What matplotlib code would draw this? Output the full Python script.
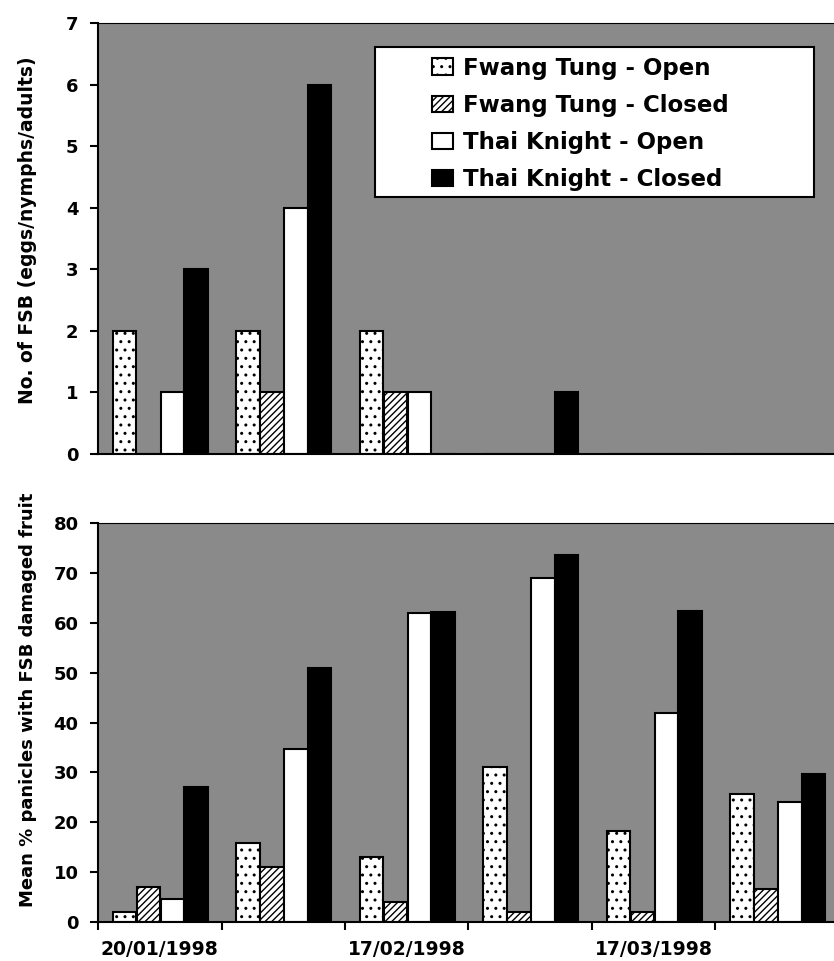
import matplotlib
matplotlib.use("Agg")
import matplotlib.pyplot as plt
import numpy as np
from matplotlib.patches import Rectangle

# series and sampling dates
series = ["Fwang Tung - Open", "Fwang Tung - Closed",
          "Thai Knight - Open", "Thai Knight - Closed"]
date_labels = ["20/01/1998", "17/02/1998", "17/03/1998"]
date_groups = [0, 2, 4]

# No. of FSB (eggs/nymphs/adults)
fsb_ft_open = [2, 2, 2, 0, 0, 0]
fsb_ft_closed = [0, 1, 1, 0, 0, 0]
fsb_tk_open = [1, 4, 1, 0, 0, 0]
fsb_tk_closed = [3, 6, 0, 1, 0, 0]

# Mean % panicles with FSB damaged fruit
dmg_ft_open = [2.0, 15.8, 13.0, 31.0, 18.2, 25.7]
dmg_ft_closed = [7.0, 11.0, 4.0, 2.0, 2.0, 6.7]
dmg_tk_open = [4.7, 34.7, 62.0, 69.0, 42.0, 24.0]
dmg_tk_closed = [27.0, 51.0, 62.2, 73.5, 62.3, 29.7]

plt.rcParams['font.family'] = ['DejaVu Sans']
plt.rcParams['font.weight'] = 'bold'
plt.rcParams['axes.labelweight'] = 'bold'
plt.rcParams['hatch.linewidth'] = 1.0

faces = ['white', 'white', 'white', 'black']
hatches = ['..', '/////', None, None]

W, H = 834, 961
fig = plt.figure(figsize=(W / 100, H / 100), dpi=100)
ax1 = fig.add_axes([98 / W, 1 - 454 / H, 736 / W, 431 / H])
ax2 = fig.add_axes([98 / W, 1 - 922 / H, 736 / W, 399 / H])

n_groups = len(dmg_ft_open)
x = np.arange(n_groups) + 0.5
width = 0.19
offsets = (np.arange(4) - 1.5) * 0.193 + 0.005

top = [fsb_ft_open, fsb_ft_closed, fsb_tk_open, fsb_tk_closed]
bottom = [dmg_ft_open, dmg_ft_closed, dmg_tk_open, dmg_tk_closed]

for ax, data in ((ax1, top), (ax2, bottom)):
    ax.set_facecolor('#8a8a8a')
    for k, vals in enumerate(data):
        ax.bar(x + offsets[k], vals, width, color=faces[k], edgecolor='black',
               hatch=hatches[k], linewidth=1.5, label=series[k], zorder=2)
    ax.set_xlim(0, 736 / 123.5)
    ax.spines['right'].set_visible(False)
    ax.spines['top'].set_linewidth(0.8)
    ax.spines['left'].set_linewidth(1.5)
    ax.spines['bottom'].set_linewidth(1.5)
    ax.tick_params(axis='y', direction='out', length=6, width=1.5, pad=8,
                   labelsize=13)

ax1.set_ylim(0, 7)
ax1.set_yticks(range(0, 8))
ax1.set_xticks([])
ax1.set_ylabel("No. of FSB (eggs/nymphs/adults)", fontsize=13.5)
ax1.yaxis.set_label_coords(-0.083, 0.52)

ax2.set_ylim(0, 80)
ax2.set_yticks(range(0, 81, 10))
ax2.set_xticks(np.arange(n_groups), labels=[''] * n_groups)
ax2.tick_params(axis='x', which='major', direction='out', length=6, width=1.5)
ax2.set_xticks(x[date_groups], labels=date_labels, minor=True)
ax2.tick_params(axis='x', which='minor', length=0, pad=13, labelsize=13.5)
ax2.set_ylabel("Mean % panicles with FSB damaged fruit", fontsize=13)
ax2.yaxis.set_label_coords(-0.083, 0.556)

# legend box
ax1.add_patch(Rectangle((0.376, 0.596), 0.597, 0.348, transform=ax1.transAxes,
                        facecolor='white', edgecolor='black', linewidth=1.5,
                        zorder=3))
leg = ax1.legend(loc='upper left', bbox_to_anchor=(0.4538, 0.922),
                 frameon=False, fontsize=16.5, handlelength=0.9,
                 handleheight=0.72, handletextpad=0.45, labelspacing=0.62,
                 borderpad=0, borderaxespad=0)
leg.set_zorder(4)

fig.savefig("out.png", dpi=100)
